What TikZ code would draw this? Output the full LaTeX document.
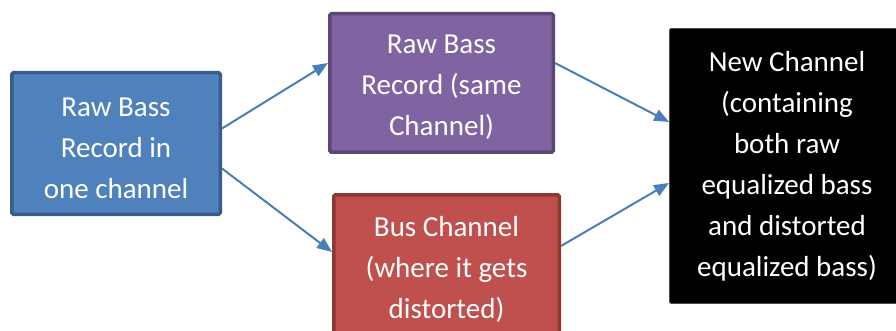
\documentclass[tikz,border=0pt]{standalone}
\usepackage{fontspec}
\setmainfont{Carlito}
\usetikzlibrary{arrows.meta}
\definecolor{boxblue}{HTML}{4F81BD}
\definecolor{lineblue}{HTML}{385D8A}
\definecolor{boxpurple}{HTML}{8064A2}
\definecolor{linepurple}{HTML}{5C4776}
\definecolor{boxred}{HTML}{C0504D}
\definecolor{linered}{HTML}{8C3836}
\definecolor{arrowblue}{HTML}{4A7EBB}
\newcommand{\toplift}{\rule{0pt}{28pt}}
\begin{document}
\begin{tikzpicture}[x=1pt,y=-1pt,
  box/.style={line width=3.5pt, rounded corners=1.5pt, text=white, align=center,
    inner sep=0pt, font=\fontsize{29}{41}\selectfont},
  link/.style={arrowblue, line width=2pt, -{Triangle[length=15pt,width=12pt]}}]
\useasboundingbox (0,0) rectangle (896,331);
\node[box, fill=boxblue, draw=lineblue, minimum width=208.5pt, minimum height=141.5pt]
  (raw) at (116,143.5) {\toplift Raw Bass\\Record in\\one channel};
\node[box, fill=boxpurple, draw=linepurple, minimum width=223.5pt, minimum height=138.5pt]
  (same) at (441.5,83) {\toplift Raw Bass\\Record (same\\Channel)};
\node[box, fill=boxred, draw=linered, minimum width=225.5pt, minimum height=142.5pt]
  (bus) at (446.5,266) {\toplift Bus Channel\\(where it gets\\distorted)};
\node[box, fill=black, draw=black!70, line width=0.8pt, minimum width=235pt, minimum height=275pt]
  (new) at (787,166) {New Channel\\(containing\\both raw\\equalized bass\\and distorted\\equalized bass)};
% connectors
\draw[link] ([yshift=15pt]raw.east) -- ([yshift=20pt]same.west);
\draw[link] ([yshift=-25pt]raw.east) -- ([yshift=14pt]bus.west);
\draw[link] ([yshift=20pt]same.east) -- ([yshift=44pt]new.west);
\draw[link] ([yshift=20pt]bus.east) -- ([yshift=-17pt]new.west);
\end{tikzpicture}
\end{document}
